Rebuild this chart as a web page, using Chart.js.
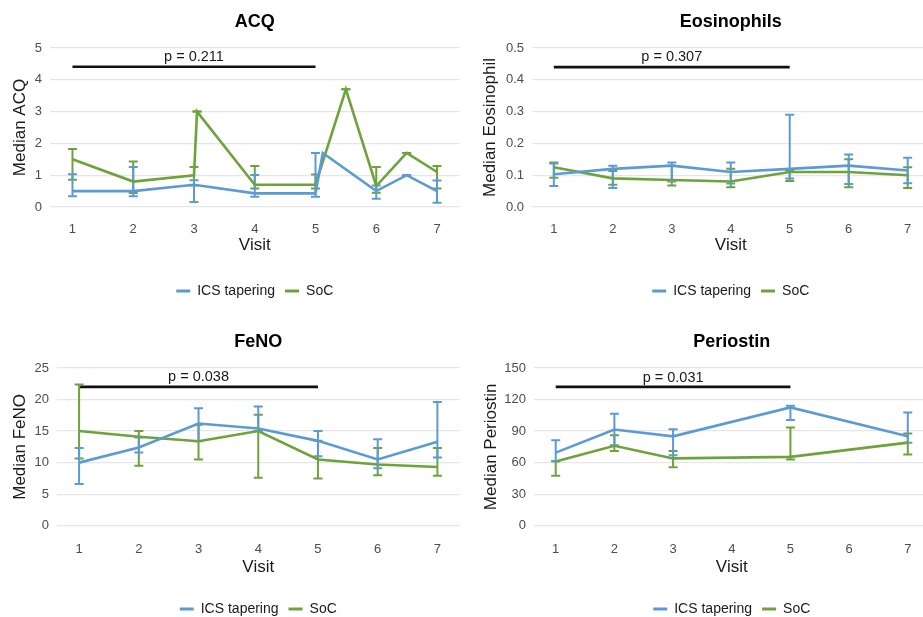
<!DOCTYPE html>
<html>
<head>
<meta charset="utf-8">
<script src="https://cdn.jsdelivr.net/npm/chart.js@4.4.1/dist/chart.umd.min.js"></script>
<style>
  html, body { margin: 0; padding: 0; background: #fff; overflow: hidden; width: 923px; height: 617px; }
  canvas { position: absolute; }
</style>
</head>
<body>
<canvas id="acq" width="466" height="320" style="left:0;top:0"></canvas>
<canvas id="eos" width="470" height="320" style="left:466px;top:0"></canvas>
<canvas id="feno" width="466" height="320" style="left:0;top:320px"></canvas>
<canvas id="peri" width="470" height="320" style="left:466px;top:320px"></canvas>
<script>
// --- données ---
const visits = [1, 2, 3, 4, 5, 6, 7];
const seriesNames = ['ICS tapering', 'SoC'];
const colors = ['#5b9bd5', '#6ea33c'];

// ACQ
const acqIcsX = [1, 2, 3, 4, 5, 5.12, 6, 6.5, 7];
const acqIcsY = [0.5, 0.5, 0.7, 0.43, 0.43, 1.7, 0.5, 1.0, 0.5];
const acqIcsErrX = [1, 2, 3, 4, 5, 6, 6.5, 7];
const acqIcsLo = [0.34, 0.34, 0.16, 0.32, 0.32, 0.26, 1.0, 0.13];
const acqIcsHi = [1.03, 1.26, 0.84, 1.01, 1.7, 0.68, 1.0, 0.83];
const acqSocX = [1, 2, 3, 3.05, 4, 5, 5.5, 6, 6.5, 7];
const acqSocY = [1.5, 0.8, 1.0, 3.0, 0.7, 0.7, 3.7, 0.66, 1.7, 1.1];
const acqSocLo = [0.86, 0.44, 0.68, 3.0, 0.58, 0.58, 3.7, 0.45, 1.7, 0.58];
const acqSocHi = [1.82, 1.43, 1.26, 3.0, 1.29, 1.02, 3.7, 1.26, 1.7, 1.29];

// Eosinophils
const eosIcsY = [0.103, 0.12, 0.13, 0.11, 0.12, 0.13, 0.115];
const eosIcsLo = [0.066, 0.06, 0.08, 0.074, 0.09, 0.072, 0.075];
const eosIcsHi = [0.137, 0.13, 0.14, 0.14, 0.29, 0.165, 0.155];
const eosSocY = [0.125, 0.09, 0.085, 0.08, 0.11, 0.11, 0.10];
const eosSocLo = [0.092, 0.07, 0.068, 0.062, 0.082, 0.062, 0.06];
const eosSocHi = [0.14, 0.113, 0.13, 0.12, 0.115, 0.15, 0.125];

// FeNO
const fenoIcsY = [10.0, 12.4, 16.2, 15.4, 13.45, 10.5, 13.3];
const fenoIcsLo = [6.6, 11.6, 13.4, 15.0, 11.0, 9.1, 10.8];
const fenoIcsHi = [12.3, 14.0, 18.6, 18.9, 15.0, 13.7, 19.6];
const fenoSocY = [15.0, 14.1, 13.4, 15.0, 10.5, 9.7, 9.3];
const fenoSocLo = [10.65, 9.5, 10.5, 7.6, 7.5, 8.0, 7.9];
const fenoSocHi = [22.4, 15.0, 16.0, 17.6, 13.45, 12.3, 12.3];

// Periostin
const periVisits = [1, 2, 3, 5, 7];
const periIcsY = [69.5, 91.5, 85, 112.5, 85];
const periIcsLo = [61, 76.5, 67, 100.5, 79];
const periIcsHi = [81.3, 106.6, 91.8, 114.2, 107.6];
const periSocY = [61, 76, 64, 65.5, 79];
const periSocLo = [47.5, 71, 55.5, 63, 67.7];
const periSocHi = [61.5, 86, 71, 93.5, 87.7];

// p-valeurs (visite 1 à 5)
const pFrom = 1, pTo = 5;
const pLabels = ['p = 0.211', 'p = 0.307', 'p = 0.038', 'p = 0.031'];
const pLineY = [4.41, 0.44, 22.0, 132];
const pTextY = [4.72, 0.472, 23.5, 140.8];

Chart.defaults.font.family = '"Liberation Sans", Arial, Helvetica, sans-serif';
Chart.defaults.animation = false;

const pts = (xs, ys) => xs.map((x, i) => ({ x: x, y: ys[i] }));
const errPts = (xs, lo, hi) => {
  const out = [];
  xs.forEach((x, i) => { out.push({ x: x, y: lo[i] }, { x: x, y: hi[i] }, { x: x, y: null }); });
  return out;
};

const pTextPlugin = {
  id: 'pText',
  afterDatasetsDraw(chart, args, opts) {
    const { ctx, scales: { x, y } } = chart;
    ctx.save();
    ctx.font = '14.5px "Liberation Sans", Arial, sans-serif';
    ctx.fillStyle = '#1a1a1a';
    ctx.textAlign = 'center';
    ctx.textBaseline = 'middle';
    ctx.fillText(opts.text, x.getPixelForValue((pFrom + pTo) / 2), y.getPixelForValue(opts.y));
    ctx.restore();
  }
};

function makePanel(id, p) {
  const datasets = [
    { label: seriesNames[0], data: pts(p.icsX, p.icsY), borderColor: colors[0], backgroundColor: colors[0], borderWidth: 2.6, pointRadius: 0 },
    { label: seriesNames[1], data: pts(p.socX, p.socY), borderColor: colors[1], backgroundColor: colors[1], borderWidth: 2.6, pointRadius: 0 },
    { label: 'err0', data: errPts(p.icsErrX, p.icsLo, p.icsHi), borderColor: colors[0], borderWidth: 2, pointStyle: 'line', pointRadius: 4.5, pointBorderWidth: 2, pointBorderColor: colors[0], spanGaps: false },
    { label: 'err1', data: errPts(p.socErrX, p.socLo, p.socHi), borderColor: colors[1], borderWidth: 2, pointStyle: 'line', pointRadius: 4.5, pointBorderWidth: 2, pointBorderColor: colors[1], spanGaps: false },
    { label: 'pline', data: [{ x: pFrom, y: p.pLine }, { x: pTo, y: p.pLine }], borderColor: '#111', borderWidth: 2.6, pointRadius: 0 }
  ];
  return new Chart(document.getElementById(id), {
    type: 'line',
    data: { datasets: datasets },
    plugins: [pTextPlugin],
    options: {
      responsive: false,
      events: [],
      layout: { padding: { left: 0, right: 3, top: 0, bottom: p.padBottom } },
      scales: {
        x: {
          type: 'linear', min: 0.63, max: 7.37,
          afterBuildTicks: s => { s.ticks = visits.map(v => ({ value: v })); },
          afterFit: s => { s.height = p.xH; },
          grid: { display: false },
          border: { display: false },
          ticks: { font: { size: 13 }, color: '#4d4d4d', padding: p.xTickPad, maxRotation: 0 },
          title: { display: true, text: 'Visit', font: { size: 17 }, color: '#1a1a1a', padding: { top: 0, bottom: p.xTitlePad } }
        },
        y: {
          min: 0, max: p.yMax,
          ticks: { stepSize: p.yStep, font: { size: 13 }, color: '#4d4d4d', padding: 8, callback: p.fmt || (v => v) },
          afterFit: s => { s.width = p.yW; },
          grid: { color: '#e6e6e6', lineWidth: 1.2, drawTicks: false },
          border: { display: false },
          title: { display: true, text: p.yTitle, font: { size: 17 }, color: '#1a1a1a', padding: { top: p.yTitlePad, bottom: 0 } }
        }
      },
      plugins: {
        title: { display: true, text: p.title, font: { size: 18, weight: 'bold' }, color: '#000', fullSize: false, padding: { top: 11, bottom: 15.4 } },
        legend: {
          position: 'bottom', fullSize: false,
          labels: {
            boxWidth: 14, boxHeight: 3, padding: 10, font: { size: 14 }, color: '#1a1a1a',
            filter: item => item.datasetIndex < 2,
            generateLabels: chart => Chart.defaults.plugins.legend.labels.generateLabels(chart).map(l => Object.assign(l, { lineWidth: 0 }))
          }
        },
        tooltip: { enabled: false },
        pText: { text: p.pText, y: p.pTextY }
      }
    }
  });
}

const topRow = { padBottom: 12, xH: 67, xTickPad: 7, xTitlePad: 18 };
const bottomRow = { padBottom: 14, xH: 66.3, xTickPad: 8, xTitlePad: 14.5 };

makePanel('acq', Object.assign({}, topRow, {
  title: 'ACQ', yTitle: 'Median ACQ', yMax: 5, yStep: 1, yW: 50, yTitlePad: 10.5,
  icsX: acqIcsX, icsY: acqIcsY, icsErrX: acqIcsErrX, icsLo: acqIcsLo, icsHi: acqIcsHi,
  socX: acqSocX, socY: acqSocY, socErrX: acqSocX, socLo: acqSocLo, socHi: acqSocHi,
  pLine: pLineY[0], pText: pLabels[0], pTextY: pTextY[0]
}));
makePanel('eos', Object.assign({}, topRow, {
  title: 'Eosinophils', yTitle: 'Median Eosinophil', yMax: 0.5, yStep: 0.1, yW: 66, yTitlePad: 13.8, fmt: v => v.toFixed(1),
  icsX: visits, icsY: eosIcsY, icsErrX: visits, icsLo: eosIcsLo, icsHi: eosIcsHi,
  socX: visits, socY: eosSocY, socErrX: visits, socLo: eosSocLo, socHi: eosSocHi,
  pLine: pLineY[1], pText: pLabels[1], pTextY: pTextY[1]
}));
makePanel('feno', Object.assign({}, bottomRow, {
  title: 'FeNO', yTitle: 'Median FeNO', yMax: 25, yStep: 5, yW: 57, yTitlePad: 10.5,
  icsX: visits, icsY: fenoIcsY, icsErrX: visits, icsLo: fenoIcsLo, icsHi: fenoIcsHi,
  socX: visits, socY: fenoSocY, socErrX: visits, socLo: fenoSocLo, socHi: fenoSocHi,
  pLine: pLineY[2], pText: pLabels[2], pTextY: pTextY[2]
}));
makePanel('peri', Object.assign({}, bottomRow, {
  title: 'Periostin', yTitle: 'Median Periostin', yMax: 150, yStep: 30, yW: 68, yTitlePad: 15.5,
  icsX: periVisits, icsY: periIcsY, icsErrX: periVisits, icsLo: periIcsLo, icsHi: periIcsHi,
  socX: periVisits, socY: periSocY, socErrX: periVisits, socLo: periSocLo, socHi: periSocHi,
  pLine: pLineY[3], pText: pLabels[3], pTextY: pTextY[3]
}));
</script>
</body>
</html>
